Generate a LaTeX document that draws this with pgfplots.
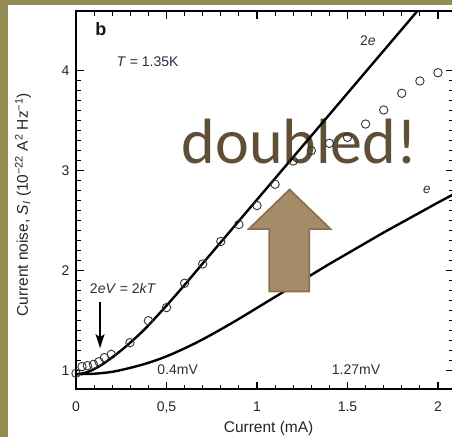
\documentclass[border=0pt]{standalone}
\usepackage{fontspec}
\setmainfont{Liberation Sans}
\newfontfamily\calib{Carlito}
\usepackage{pgfplots}
\pgfplotsset{compat=1.18}
\usetikzlibrary{arrows.meta}
\definecolor{slideolive}{HTML}{948A54}
\definecolor{doubledtxt}{HTML}{5E4F36}
\definecolor{arrowfill}{HTML}{A58C69}
\definecolor{arrowedge}{HTML}{8C7350}
\definecolor{annot}{HTML}{2A3042}
\definecolor{markc}{HTML}{333333}
\begin{document}
\begin{tikzpicture}
\fill[white] (-76pt,-48pt) rectangle (376pt,389pt);
\fill[slideolive] (-76pt,-48pt) rectangle (-68pt,389pt);
\fill[slideolive] (-76pt,384pt) rectangle (376pt,389pt);
\begin{axis}[
  scale only axis,
  width=377pt, height=378pt,
  xmin=0, xmax=2.083, ymin=0.813, ymax=4.598,
  axis line style={line width=1.3pt, black},
  xtick={0,0.5,1,1.5,2},
  xticklabels={0,{0,5},1,1.5,2},
  ytick={1,2,3,4},
  minor x tick num=4,
  minor y tick num=9,
  tick align=inside,
  xtick pos=both, ytick pos=both,
  xticklabel pos=lower, yticklabel pos=left,
  major tick length=7.5pt, minor tick length=4.5pt,
  every tick/.style={line width=1.1pt, black},
  /pgf/number format/assume math mode=true,
  tick label style={font=\fontsize{14}{16}\selectfont, text=black!85},
  xticklabel style={yshift=-9pt},
  yticklabel style={xshift=-3pt},
  xlabel={Current (mA)},
  ylabel={Current noise, \textit{S}\textsubscript{\textit{I}} (10\textsuperscript{−22} A\textsuperscript{2} Hz\textsuperscript{−1})},
  every axis x label/.style={at={(axis description cs:0.511,-0.1156)}, anchor=base, font=\fontsize{15.5}{18}\selectfont, text=black!85},
  every axis y label/.style={at={(axis description cs:-0.1406,0.487)}, anchor=center, rotate=90, font=\fontsize{15.5}{18}\selectfont, text=black!85},
  clip=false,
]
% big overlay text
\node[anchor=base west, inner sep=0pt, text=doubledtxt, font=\calib\fontsize{64}{72}\selectfont] at (axis cs:0.583,3.073) {doubled!};
% e curve
\addplot[black, line width=2.4pt, smooth, tension=0.5] coordinates {
(0,0.962) (0.1,0.966) (0.2,0.985) (0.3,1.025) (0.4,1.075) (0.5,1.14) (0.6,1.22) (0.7,1.31) (0.8,1.41) (0.9,1.515) (1.0,1.625) (1.1,1.735) (1.2,1.845) (1.3,1.955) (1.4,2.065) (1.5,2.17) (1.6,2.275) (1.7,2.38) (1.8,2.48) (1.9,2.58) (2.0,2.68) (2.083,2.76)
};
% 2e curve
\addplot[black, line width=2.4pt, smooth, tension=0.5] coordinates {
(0,0.96) (0.05,0.975) (0.1,1.012) (0.15,1.065) (0.2,1.13) (0.25,1.2) (0.3,1.278) (0.35,1.36) (0.4,1.45) (0.5,1.648) (0.6,1.855) (0.7,2.07) (0.8,2.283) (0.9,2.496) (1.0,2.709) (1.2,3.135) (1.4,3.561) (1.6,3.988) (1.8,4.414) (1.886,4.598)
};
% data
\addplot[only marks, mark=o, mark size=4.2pt, mark options={markc, line width=0.9pt, fill=none}] coordinates {
(0,0.97) (0.033,1.037) (0.063,1.047) (0.096,1.06) (0.127,1.087) (0.157,1.127) (0.195,1.16) (0.298,1.277) (0.4,1.497) (0.5,1.628) (0.6,1.872) (0.7,2.065) (0.8,2.29) (0.9,2.46) (1.0,2.65) (1.1,2.863) (1.2,3.096) (1.3,3.2) (1.4,3.273) (1.5,3.333) (1.6,3.466) (1.7,3.607) (1.8,3.774) (1.9,3.897) (2.0,3.98)
};
% big arrow
\draw[arrowedge, fill=arrowfill, line width=1.8pt, line join=miter]
  (axis cs:1.068,1.79) -- (axis cs:1.068,2.415) -- (axis cs:0.955,2.415) -- (axis cs:1.18,2.81) -- (axis cs:1.406,2.415) -- (axis cs:1.289,2.415) -- (axis cs:1.289,1.79) -- cycle;
% annotations
\node[font=\bfseries\fontsize{18}{20}\selectfont, text=black!90] at (axis cs:0.138,4.414) {b};
\node[font=\fontsize{14}{16}\selectfont, text=annot] at (axis cs:0.395,4.09) {\textit{T} = 1.35K};
\node[font=\fontsize{14}{16}\selectfont, text=annot] at (axis cs:1.613,4.30) {2\textit{e}};
\node[font=\fontsize{13.5}{16}\selectfont, text=annot] at (axis cs:1.939,2.803) {\textit{e}};
\node[font=\fontsize{14}{16}\selectfont, text=annot] at (axis cs:0.26,1.815) {2\textit{eV} = 2\textit{kT}};
\node[font=\fontsize{14}{16}\selectfont, text=annot] at (axis cs:0.562,1.004) {0.4mV};
\node[font=\fontsize{14}{16}\selectfont, text=annot] at (axis cs:1.547,1.004) {1.27mV};
\draw[black, line width=1.3pt, -{Stealth[length=14pt, width=9pt, inset=3pt]}] (axis cs:0.133,1.688) -- (axis cs:0.133,1.222);
\end{axis}
\pgfresetboundingbox
\useasboundingbox (-76pt,-48pt) rectangle (376pt,389pt);
\end{tikzpicture}
\end{document}
